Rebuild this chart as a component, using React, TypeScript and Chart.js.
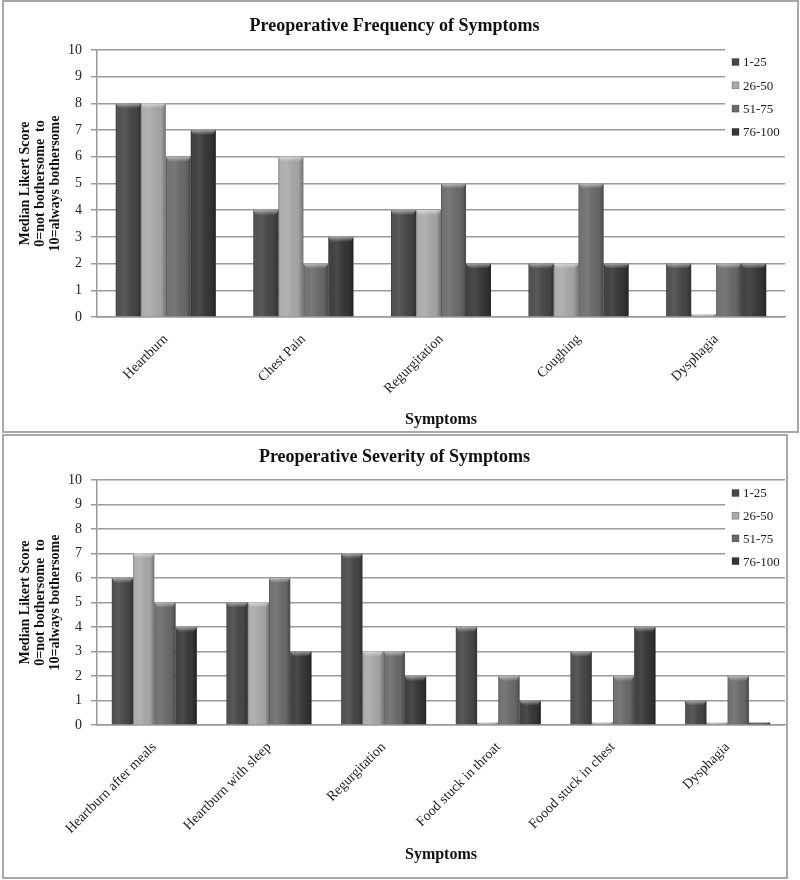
import React, { useEffect, useRef } from "react";
import { Chart, registerables } from "chart.js";

Chart.register(...registerables);

// ---------- DATA ----------
const seriesLabels = ["1-25", "26-50", "51-75", "76-100"];

const freqCategories = ["Heartburn", "Chest Pain", "Regurgitation", "Coughing", "Dysphagia"];
const freq1to25 = [8, 4, 4, 2, 2];
const freq26to50 = [8, 6, 4, 2, 0.1];
const freq51to75 = [6, 2, 5, 5, 2];
const freq76to100 = [7, 3, 2, 2, 2];

const sevCategories = [
  "Heartburn after meals",
  "Heartburn with sleep",
  "Regurgitation",
  "Food stuck in throat",
  "Foood stuck in chest",
  "Dysphagia",
];
const sev1to25 = [6, 5, 7, 4, 3, 1];
const sev26to50 = [7, 5, 3, 0.1, 0.1, 0.1];
const sev51to75 = [5, 6, 3, 2, 2, 2];
const sev76to100 = [4, 3, 2, 1, 4, 0.1];

const yMin = 0;
const yMax = 10;
const yStep = 1;

const yTitleLines = ["Median Likert Score", "0=not bothersome  to", "10=always bothersome"];
const xTitle = "Symptoms";
const freqTitle = "Preoperative Frequency of Symptoms";
const sevTitle = "Preoperative Severity of Symptoms";

// ---------- STYLE ----------
const barColors = ["#474747", "#a9a9a9", "#6a6a6a", "#363636"];
const FONT = '"Liberation Serif", "Times New Roman", serif';
const gridColor = "#9a9a9a";

const shadePlugin = {
  id: "shade",
  afterDatasetsDraw(chart: any) {
    const ctx = chart.ctx;
    chart.data.datasets.forEach((_ds: any, di: number) => {
      const meta = chart.getDatasetMeta(di);
      meta.data.forEach((el: any) => {
        const { x, y, base, width } = el.getProps(["x", "y", "base", "width"], true);
        const l = x - width / 2;
        const h = base - y;
        if (h <= 0) return;
        ctx.save();
        const g = ctx.createLinearGradient(l, 0, l + width, 0);
        g.addColorStop(0, "rgba(0,0,0,0.30)");
        g.addColorStop(0.1, "rgba(255,255,255,0.05)");
        g.addColorStop(0.35, "rgba(255,255,255,0.10)");
        g.addColorStop(0.8, "rgba(0,0,0,0.04)");
        g.addColorStop(1, "rgba(0,0,0,0.32)");
        ctx.fillStyle = g;
        ctx.fillRect(l, y, width, h);
        const capH = Math.min(5, h);
        const g2 = ctx.createLinearGradient(0, y, 0, y + capH);
        g2.addColorStop(0, "rgba(255,255,255,0.5)");
        g2.addColorStop(1, "rgba(255,255,255,0)");
        ctx.fillStyle = g2;
        ctx.beginPath();
        ctx.moveTo(l, y);
        ctx.lineTo(l + width, y);
        ctx.lineTo(l + width - 3, y + capH);
        ctx.lineTo(l + 3, y + capH);
        ctx.closePath();
        ctx.fill();
        ctx.restore();
      });
    });
  },
};

const boxLegendPlugin = {
  id: "boxLegend",
  afterDraw(chart: any, _args: any, opts: any) {
    const { ctx, chartArea } = chart;
    const { boxTop, firstY, step, squareX, textX } = opts;
    const n = chart.data.datasets.length;
    ctx.save();
    ctx.fillStyle = "#ffffff";
    ctx.fillRect(squareX - 7, boxTop, chartArea.right - (squareX - 7) + 2, firstY + step * (n - 1) + 12 - boxTop);
    chart.data.datasets.forEach((ds: any, i: number) => {
      const cy = firstY + i * step;
      ctx.fillStyle = ds.backgroundColor;
      ctx.fillRect(squareX, cy - 3.5, 7, 7);
      ctx.strokeStyle = "rgba(0,0,0,0.4)";
      ctx.lineWidth = 0.6;
      ctx.strokeRect(squareX, cy - 3.5, 7, 7);
      ctx.fillStyle = "#1e1e1e";
      ctx.font = `13px ${FONT}`;
      ctx.textBaseline = "middle";
      ctx.textAlign = "left";
      ctx.fillText(ds.label, textX, cy + 1);
    });
    ctx.restore();
  },
};

type PanelProps = {
  title: string;
  categories: string[];
  series: number[][];
  catPct: number;
  width: number;
  height: number;
  rightPad: number;
  titlePadTop: number;
  titlePadBottom: number;
  xScaleHeight: number;
  xTitlePadBottom: number;
  legend: { boxTop: number; firstY: number; step: number; squareX: number; textX: number };
  boxStyle: React.CSSProperties;
};

function Panel(p: PanelProps) {
  const ref = useRef<HTMLCanvasElement | null>(null);
  useEffect(() => {
    if (!ref.current) return;
    const chart = new Chart(ref.current, {
      type: "bar",
      data: {
        labels: p.categories,
        datasets: seriesLabels.map((label, i) => ({
          label,
          data: p.series[i],
          backgroundColor: barColors[i],
          borderWidth: 0,
          barPercentage: 1,
          categoryPercentage: p.catPct,
        })),
      },
      options: {
        animation: false,
        responsive: false,
        layout: { padding: { left: 0, right: p.rightPad, top: 0, bottom: 0 } },
        plugins: {
          legend: { display: false },
          tooltip: { enabled: false },
          title: {
            display: true,
            text: p.title,
            color: "#111",
            font: { family: FONT, size: 18, weight: "bold" },
            padding: { top: p.titlePadTop, bottom: p.titlePadBottom },
          },
          boxLegend: p.legend,
        } as any,
        scales: {
          x: {
            grid: { display: false, drawTicks: false },
            border: { display: true, color: gridColor, width: 1.5 },
            ticks: {
              color: "#222",
              font: { family: FONT, size: 14 },
              maxRotation: 45,
              minRotation: 45,
              autoSkip: false,
              padding: 14,
            },
            title: {
              display: true,
              text: xTitle,
              color: "#111",
              font: { family: FONT, size: 16, weight: "bold" },
              padding: { top: 0, bottom: p.xTitlePadBottom },
            },
            afterFit: (s: any) => {
              s.height = p.xScaleHeight;
            },
          },
          y: {
            min: yMin,
            max: yMax,
            ticks: {
              stepSize: yStep,
              color: "#222",
              font: { family: FONT, size: 14 },
              padding: 9,
            },
            grid: { color: gridColor, lineWidth: 1.5, tickLength: 6 },
            border: { color: gridColor, width: 1.5 },
            title: {
              display: true,
              text: yTitleLines,
              color: "#111",
              font: { family: FONT, size: 14, weight: "bold", lineHeight: 1.08 },
              padding: { top: 13.5, bottom: 0 },
            },
            afterFit: (s: any) => {
              s.width = 93;
            },
          },
        },
      } as any,
      plugins: [shadePlugin, boxLegendPlugin],
    });
    return () => chart.destroy();
  }, []);
  return (
    <div style={{ position: "absolute", boxSizing: "border-box", border: "2px solid #a8a8a8", background: "#fff", ...p.boxStyle }}>
      <canvas ref={ref} width={p.width} height={p.height} style={{ display: "block" }} />
    </div>
  );
}

export default function App() {
  return (
    <div style={{ position: "absolute", left: 0, top: 0, width: 800, height: 880, background: "#fff" }}>
      <Panel
        title={freqTitle}
        categories={freqCategories}
        series={[freq1to25, freq26to50, freq51to75, freq76to100]}
        catPct={0.727}
        width={793}
        height={429}
        rightPad={12}
        titlePadTop={13.2}
        titlePadBottom={13.2}
        xScaleHeight={114}
        xTitlePadBottom={1.4}
        legend={{ boxTop: 44, firstY: 60, step: 23.3, squareX: 728, textX: 739 }}
        boxStyle={{ left: 2, top: 0, width: 797, height: 433 }}
      />
      <Panel
        title={sevTitle}
        categories={sevCategories}
        series={[sev1to25, sev26to50, sev51to75, sev76to100]}
        catPct={0.741}
        width={782}
        height={441}
        rightPad={1}
        titlePadTop={10.8}
        titlePadBottom={11.6}
        xScaleHeight={152}
        xTitlePadBottom={12.4}
        legend={{ boxTop: 47, firstY: 57, step: 22.7, squareX: 728, textX: 739 }}
        boxStyle={{ left: 2, top: 434, width: 786, height: 445 }}
      />
    </div>
  );
}
